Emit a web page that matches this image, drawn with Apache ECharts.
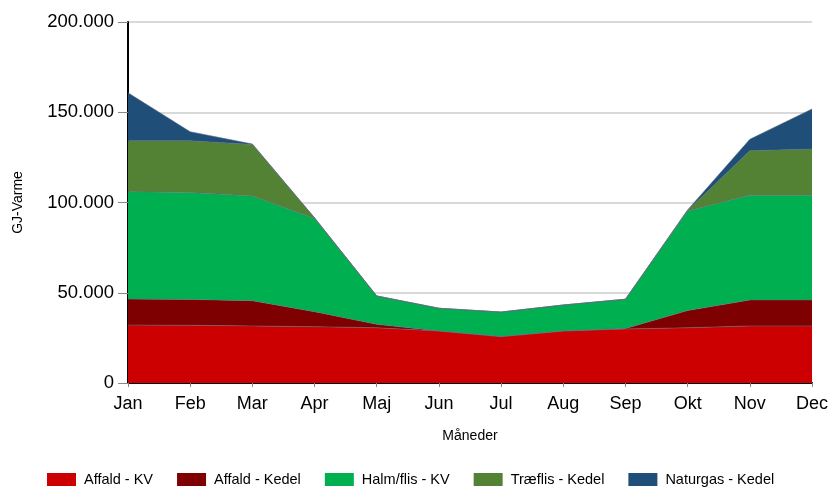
<!DOCTYPE html>
<html>
<head>
<meta charset="utf-8">
<script src="https://cdn.jsdelivr.net/npm/echarts@6/dist/echarts.min.js"></script>
<style>
  html, body { margin: 0; padding: 0; background: #fff; }
  #main { width: 831px; height: 488px; }
</style>
</head>
<body>
<div id="main"></div>
<script>
let months = ['Jan', 'Feb', 'Mar', 'Apr', 'Maj', 'Jun', 'Jul', 'Aug', 'Sep', 'Okt', 'Nov', 'Dec'];

// GJ per måned
let affald_kv    = [32100, 32000, 31600, 31200, 30600, 28800, 25700, 28800, 29900, 30600, 31600, 31600];
let affald_kedel = [14400, 14300, 14000, 8300, 1900, 0, 0, 0, 300, 9500, 14400, 14400];
let halm_kv      = [59500, 59300, 58000, 51700, 15700, 12600, 13600, 14400, 16200, 55200, 58000, 58000];
let traeflis     = [28200, 28600, 28600, 300, 0, 0, 0, 0, 0, 300, 24700, 25600];
let naturgas     = [26600, 5000, 200, 0, 0, 0, 0, 0, 0, 300, 6300, 22200];

let yTicks = [0, 50000, 100000, 150000, 200000];

function fmt(v) {
    return String(v).replace(/\B(?=(\d{3})+(?!\d))/g, '.');
}

function layer(name, data, color) {
    return {
        name: name,
        type: 'line',
        stack: 'total',
        data: data,
        symbol: 'none',
        lineStyle: { width: 0.6, color: '#5a6b7a' },
        areaStyle: { color: color, opacity: 1 },
        itemStyle: { color: color },
        emphasis: { disabled: true }
    };
}

var myChart = echarts.init(document.getElementById('main'));
var option = {
    animation: false,
    textStyle: { fontFamily: 'Liberation Sans, Arial, sans-serif' },
    grid: { left: 128, right: 19, top: 22, bottom: 105, outerBoundsMode: 'none' },
    legend: {
        top: 472,
        left: 47,
        padding: 0,
        itemWidth: 29,
        itemHeight: 13,
        itemGap: 24,
        icon: 'rect',
        textStyle: { fontSize: 14.5, color: '#000', padding: [0, 0, 0, 3] },
        data: ['Affald - KV', 'Affald - Kedel', 'Halm/flis - KV', 'Træflis - Kedel', 'Naturgas - Kedel']
    },
    xAxis: {
        type: 'category',
        boundaryGap: false,
        data: months,
        name: 'Måneder',
        nameLocation: 'middle',
        nameGap: 46,
        nameTextStyle: { fontSize: 14, color: '#000' },
        axisLine: { lineStyle: { color: '#000', width: 2 } },
        axisTick: { show: true, length: 4, lineStyle: { color: '#888' } },
        axisLabel: { fontSize: 18, color: '#000', margin: 12 }
    },
    yAxis: {
        type: 'value',
        min: yTicks[0],
        max: yTicks[yTicks.length - 1],
        interval: 50000,
        name: 'GJ-Varme',
        nameLocation: 'middle',
        nameGap: 103,
        nameTextStyle: { fontSize: 14, color: '#000' },
        axisLine: { show: true, lineStyle: { color: '#000', width: 2 } },
        axisTick: { show: true, length: 10, lineStyle: { color: '#888' } },
        axisLabel: { fontSize: 18.5, color: '#000', margin: 14, formatter: fmt },
        splitLine: { lineStyle: { color: '#d9d9d9', width: 2 } }
    },
    series: [
        layer('Affald - KV', affald_kv, '#cc0000'),
        layer('Affald - Kedel', affald_kedel, '#7f0000'),
        layer('Halm/flis - KV', halm_kv, '#00b050'),
        layer('Træflis - Kedel', traeflis, '#548235'),
        layer('Naturgas - Kedel', naturgas, '#1f4e79')
    ]
};
myChart.setOption(option);
</script>
</body>
</html>
